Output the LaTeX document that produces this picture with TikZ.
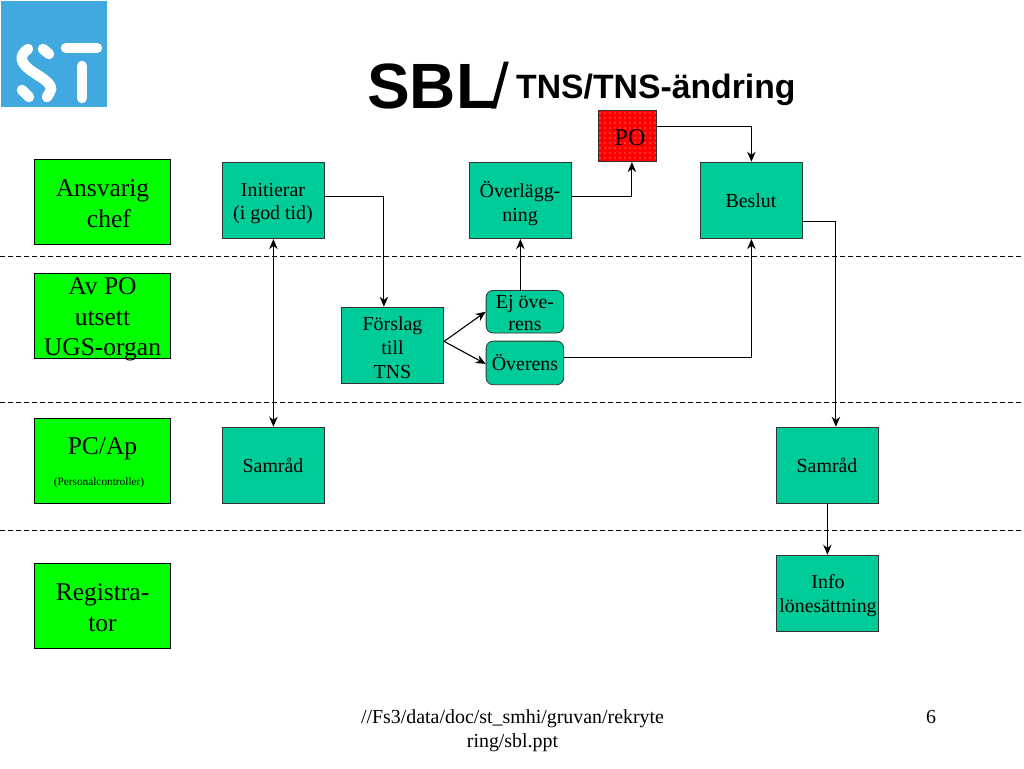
\documentclass[tikz,border=0pt]{standalone}
\usepackage{fontspec}
\setmainfont{Liberation Serif}
\newfontfamily\titlefont{Liberation Sans}
\usetikzlibrary{arrows.meta,patterns.meta,calc}
\definecolor{teal1}{HTML}{00CC99}
\definecolor{lime1}{HTML}{00FF00}
\definecolor{logoblue}{HTML}{3FA9E0}
\newcommand{\fsz}[2]{\fontsize{#1}{#2}\selectfont}
\tikzset{
  lane/.style={draw=black,fill=lime1,line width=0.8pt,inner sep=0pt,minimum width=136.6pt,minimum height=85.6pt},
  stepbox/.style={draw=black!80,fill=teal1,line width=0.8pt,inner sep=0pt,minimum width=102.6pt,minimum height=76.6pt},
  pill/.style={draw=black!80,fill=teal1,line width=0.8pt,inner sep=0pt,rounded corners=7pt,minimum width=77.6pt},
  txtl/.style={align=center,inner sep=0pt,font=\fsz{25.5}{30.5}},
  txts/.style={align=center,inner sep=0pt,font=\fsz{19.9}{23.5}},
  conn/.style={draw=black,line width=1.1pt,-{Stealth[length=10pt,width=8.5pt]}},
  conntwo/.style={draw=black,line width=1.1pt,{Stealth[length=10pt,width=8.5pt]}-{Stealth[length=10pt,width=8.5pt]}},
  sep/.style={draw=black,line width=0.6pt,dash pattern=on 5pt off 3pt},
  logostroke/.style={draw=white,line width=10.5pt,line cap=round}
}
\begin{document}
\begin{tikzpicture}[x=1pt,y=-1pt]
\useasboundingbox (0,0) rectangle (1024,768);
\fill[white] (0,0) rectangle (1024,768);
% logo
\fill[logoblue] (1,1) rectangle (107,107);
\draw[logostroke] (66,48) -- (97,48);
\draw[logostroke] (82,66) -- (82,98);
\draw[logostroke] (28,49) .. controls (18,56) and (21,63) .. (30,70) .. controls (40,77) and (55,84) .. (50,92) -- (47,97);
\draw[logostroke] (43,49) -- (49,54);
\draw[logostroke] (22,90) -- (29,97);
% title
\node[inner sep=0pt,anchor=base west] (t1) at (367,108) {\titlefont\fsz{64}{70}\bfseries SBL};
\node[inner sep=0pt,anchor=base west] (t2) at (491,108) {\titlefont\fsz{64}{70}/};
\node[inner sep=0pt,anchor=base west] (t3) at (516,98) {\titlefont\fsz{33.75}{38}\bfseries TNS/TNS-ändring};
% separators
\coordinate (s1a) at (0,255.8); \coordinate (s1b) at (1024,255.8);
\coordinate (s2a) at (0,401.8); \coordinate (s2b) at (1024,401.8);
\coordinate (s3a) at (0,529.8); \coordinate (s3b) at (1024,529.8);
\draw[sep] (s1a) -- (s1b);
\draw[sep] (s2a) -- (s2b);
\draw[sep] (s3a) -- (s3b);
% lanes
\node[lane] (g1) at (102.4,201.9) {};
\node[lane] (g2) at (102.4,315.9) {};
\node[lane] (g3) at (102.4,460.9) {};
\node[lane] (g4) at (102.4,605.9) {};
\node[txtl] (g1t) at (102.5,203.5) {Ansvarig\\\ \ chef};
\node[txtl] (g2t) at (102.5,319.5) {Av PO\\utsett\\UGS-organ};
\node[txtl] (g3t) at (102.5,449) {PC/Ap};
\node[inner sep=0pt,font=\fsz{11.3}{13}] (g3s) at (99,482.5) {(Personalcontroller)};
\node[txtl] (g4t) at (102.5,607.5) {Registra-\\tor};
% steps
\node[stepbox] (ini) at (273.4,200.4) {};
\node[stepbox] (ovl) at (520.4,200.4) {};
\node[stepbox] (bes) at (751.4,200.4) {};
\node[stepbox] (for) at (392.4,345.4) {};
\node[stepbox] (sa1) at (273.4,465.4) {};
\node[stepbox] (sa2) at (827.4,465.4) {};
\node[stepbox] (inf) at (827.4,593.4) {};
\node[pill,minimum height=42.6pt] (ej) at (524.9,311.7) {};
\node[pill,minimum height=43.6pt] (ove) at (524.9,362.9) {};
\node[draw=black!80,fill=red,line width=0.8pt,inner sep=0pt,minimum width=58.6pt,minimum height=51.6pt] (po) at (627.4,135.9) {};
\fill[pattern={Dots[distance=5pt,radius=0.6pt]},pattern color=white!85!red] (po.south west) rectangle (po.north east);
\node[txts] (init) at (273,203.5) {Initierar\\(i god tid)};
\node[txts] (ovlt) at (520,203.5) {Överlägg-\\ning};
\node[txts] (best) at (751,201) {Beslut};
\node[txts,font=\fsz{19.9}{24.3}] (fort) at (392.5,347.5) {Förslag\\till\\TNS};
\node[txts] (sa1t) at (273,465.5) {Samråd};
\node[txts] (sa2t) at (827,465.5) {Samråd};
\node[txts,font=\fsz{19.9}{24}] (inft) at (828,596) {Info\\lönesättning};
\node[txts,font=\fsz{19.9}{22.5}] (ejt) at (525,313) {Ej öve-\\rens};
\node[txts] (ovet) at (525,363) {Överens};
\node[inner sep=0pt,font=\fsz{24}{28}] (pot) at (630,138) {PO};
% connectors
\draw[conn] ([yshift=4pt]ini.east) -| ([xshift=-8.5pt]for.north);
\draw[conntwo] (ini.south) -- (sa1.north);
\draw[conn] ([yshift=4pt]for.east) -- (ej.west);
\draw[conn] ([yshift=4pt]for.east) -- ([yshift=-1pt]ove.west);
\draw[conn] (ej.north -| ovl.south) -- (ovl.south);
\draw[conn] ([yshift=4pt]ovl.east) -| ([xshift=4.5pt]po.south);
\draw[conn] ([yshift=9pt]po.east) -| (bes.north);
\draw[conn] ([yshift=5pt]ove.east) -| (bes.south);
\draw[conn] ([yshift=-21pt]bes.east) -| ([xshift=8.5pt]sa2.north);
\draw[conn] (sa2.south) -- (inf.north);
% footer
\node[txts,font=\fsz{19.9}{24}] (foot) at (512.5,731) {//Fs3/data/doc/st\_smhi/gruvan/rekryte\\ring/sbl.ppt};
\node[inner sep=0pt,font=\fsz{19.9}{24}] (num) at (931,717) {6};
\end{tikzpicture}
\end{document}
